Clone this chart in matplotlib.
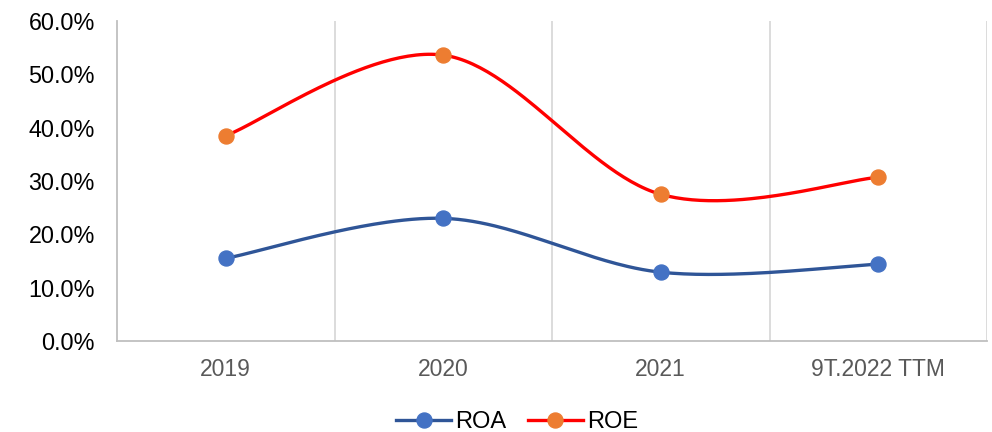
import numpy as np
import matplotlib
matplotlib.use("Agg")
import matplotlib.pyplot as plt
from matplotlib.ticker import PercentFormatter

categories = ["2019", "2020", "2021", "9T.2022 TTM"]
roa = [15.5, 23.0, 12.9, 14.4]
roe = [38.5, 53.6, 27.5, 30.7]
y_ticks = [0, 10, 20, 30, 40, 50, 60]

plt.rcParams['font.family'] = ['Liberation Sans', 'DejaVu Sans']

def smooth(xs, ys, n=60):
    P = np.column_stack([xs, ys]).astype(float)
    ext = np.vstack([P[0], P, P[-1]])
    out = []
    for i in range(len(P) - 1):
        p0, p1, p2, p3 = ext[i], ext[i + 1], ext[i + 2], ext[i + 3]
        c1 = p1 + (p2 - p0) / 6.0
        c2 = p2 - (p3 - p1) / 6.0
        t = np.linspace(0, 1, n)[:, None]
        seg = (1 - t) ** 3 * p1 + 3 * (1 - t) ** 2 * t * c1 + 3 * (1 - t) * t ** 2 * c2 + t ** 3 * p2
        out.append(seg if i == 0 else seg[1:])
    s = np.vstack(out)
    return s[:, 0], s[:, 1]

fig = plt.figure(figsize=(9.92, 4.32), dpi=100)
ax = fig.add_axes([117 / 992, 1 - 341 / 432, 870 / 992, 320 / 432])

x = np.arange(len(categories))
series = [("ROA", roa, "#2F5597", "#4472C4"), ("ROE", roe, "#FF0000", "#ED7D31")]
handles = []
for name, vals, lc, mc in series:
    sx, sy = smooth(x, vals)
    ax.plot(sx, sy, color=lc, lw=2.4, solid_capstyle='round', zorder=3)
    ax.plot(x, vals, linestyle='none', marker='o', ms=10.8, color=mc, zorder=4)
    h, = ax.plot([], [], color=lc, lw=2.4, marker='o', ms=10.8, mfc=mc, mec=mc, label=name)
    handles.append(h)

ax.set_xlim(-0.5, len(categories) - 0.5)
ax.set_ylim(0, 60)
ax.set_yticks(y_ticks)
ax.yaxis.set_major_formatter(PercentFormatter(decimals=1))
ax.set_xticks(x)
ax.set_xticklabels(categories)
for b in np.arange(0.5, len(categories), 1.0):
    ax.axvline(b, color='#d9d9d9', lw=1.3, zorder=1)

for s in ['top', 'right']:
    ax.spines[s].set_visible(False)
for s in ['left', 'bottom']:
    ax.spines[s].set_color('#bfbfbf')
    ax.spines[s].set_linewidth(1.3)
ax.tick_params(axis='both', length=0)
ax.tick_params(axis='y', labelsize=16.8, labelcolor='#000000', pad=16)
ax.tick_params(axis='x', labelsize=16.5, labelcolor='#595959', pad=12)

fig.legend(handles=handles, loc='center', bbox_to_anchor=(517 / 992, 1 - 422 / 432),
           ncol=2, frameon=False, fontsize=17, handlelength=2.33, handletextpad=0.17,
           columnspacing=0.9, borderpad=0, borderaxespad=0)

fig.savefig("out.png", dpi=100)
